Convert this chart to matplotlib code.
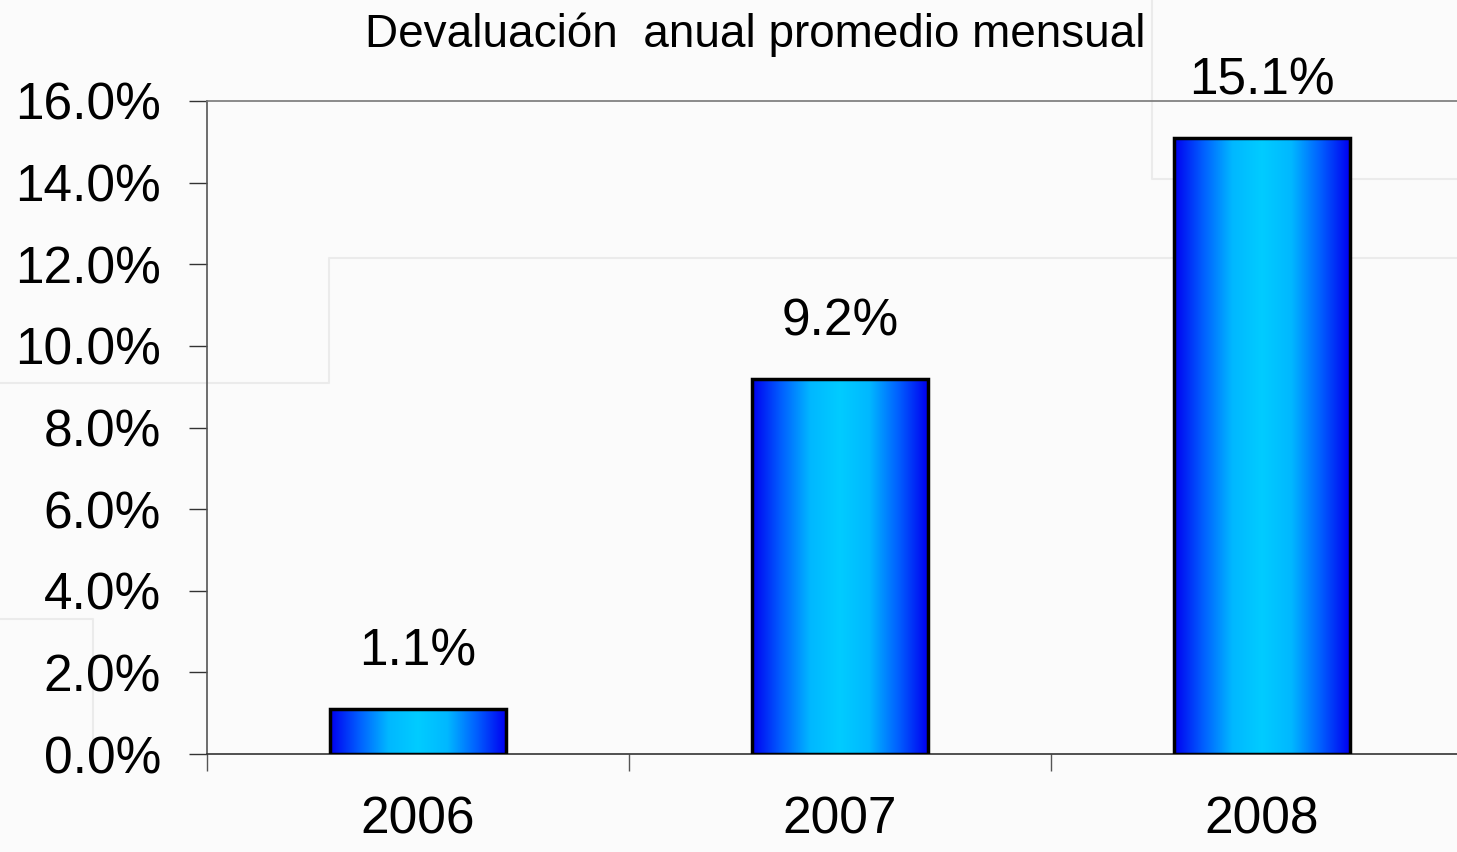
import numpy as np
import matplotlib
matplotlib.use('Agg')
import matplotlib.pyplot as plt
from matplotlib.colors import LinearSegmentedColormap
from matplotlib.lines import Line2D

matplotlib.rcParams['font.family'] = ['Liberation Sans', 'DejaVu Sans']

years = ['2006', '2007', '2008']
devaluacion = [1.1, 9.2, 15.1]
bar_labels = ['1.1%', '9.2%', '15.1%']
yticks = [0, 2, 4, 6, 8, 10, 12, 14, 16]
ytick_labels = ['%.1f%%' % v for v in yticks]
title = 'Devaluación  anual promedio mensual'

W, H = 1457, 852
fig = plt.figure(figsize=(W / 100, H / 100), dpi=100, facecolor='#fbfbfb')

# faint decorative background lines
def fig_line(xs, ys):
    fig.add_artist(Line2D([x / W for x in xs], [1 - y / H for y in ys],
                          color='#ebebeb', lw=1.5, zorder=0))

fig_line([0, 329, 329, W], [383, 383, 258, 258])
fig_line([1152, 1152, W], [0, 179, 179])
fig_line([0, 93, 93], [619, 619, 768])

left, right, top, bottom = 207, 1473, 101, 754
ax = fig.add_axes([left / W, 1 - bottom / H, (right - left) / W, (bottom - top) / H])
ax.patch.set_alpha(0)

x = np.arange(len(years))
bars = ax.bar(x, devaluacion, width=0.415, facecolor='none', edgecolor='black',
              linewidth=2.5, zorder=3)

cmap = LinearSegmentedColormap.from_list(
    'blu', ['#0000f0', '#0060ff', '#00b8ff', '#00ccff', '#00b8ff', '#0060ff', '#0000f0'])
grad = np.linspace(0, 1, 256).reshape(1, -1)
for b in bars:
    bx, by = b.get_x(), b.get_y()
    im = ax.imshow(grad, cmap=cmap, aspect='auto', zorder=2,
                   extent=[bx, bx + b.get_width(), by, by + b.get_height()])
    im.set_clip_path(b)

for xi, v, lab in zip(x, devaluacion, bar_labels):
    ax.annotate(lab, (xi, v), xytext=(0, 41), textcoords='offset points',
                ha='center', va='center', fontsize=37)

ax.set_xlim(-0.5, len(years) - 0.5)
ax.set_ylim(0, 16)
ax.set_yticks(yticks)
ax.set_yticklabels(ytick_labels, fontsize=37)
ax.set_xticks(x)
ax.set_xticklabels(years, fontsize=37)
ax.set_xticks(np.arange(len(years) + 1) - 0.5, minor=True)
ax.tick_params(axis='x', which='major', length=0, pad=30)
ax.tick_params(axis='x', which='minor', length=12, width=1, color='#555555')
ax.tick_params(axis='y', length=13, width=1, pad=20, color='#333333')

ax.spines['right'].set_visible(False)
ax.spines['top'].set_color('#777777')
ax.spines['left'].set_color('#555555')
ax.spines['bottom'].set_color('#333333')
for s in ax.spines.values():
    s.set_linewidth(1.2)

fig.text(755 / W, 1 - 35 / H, title, ha='center', va='center', fontsize=33)

fig.savefig('out.png', dpi=100, facecolor=fig.get_facecolor())
